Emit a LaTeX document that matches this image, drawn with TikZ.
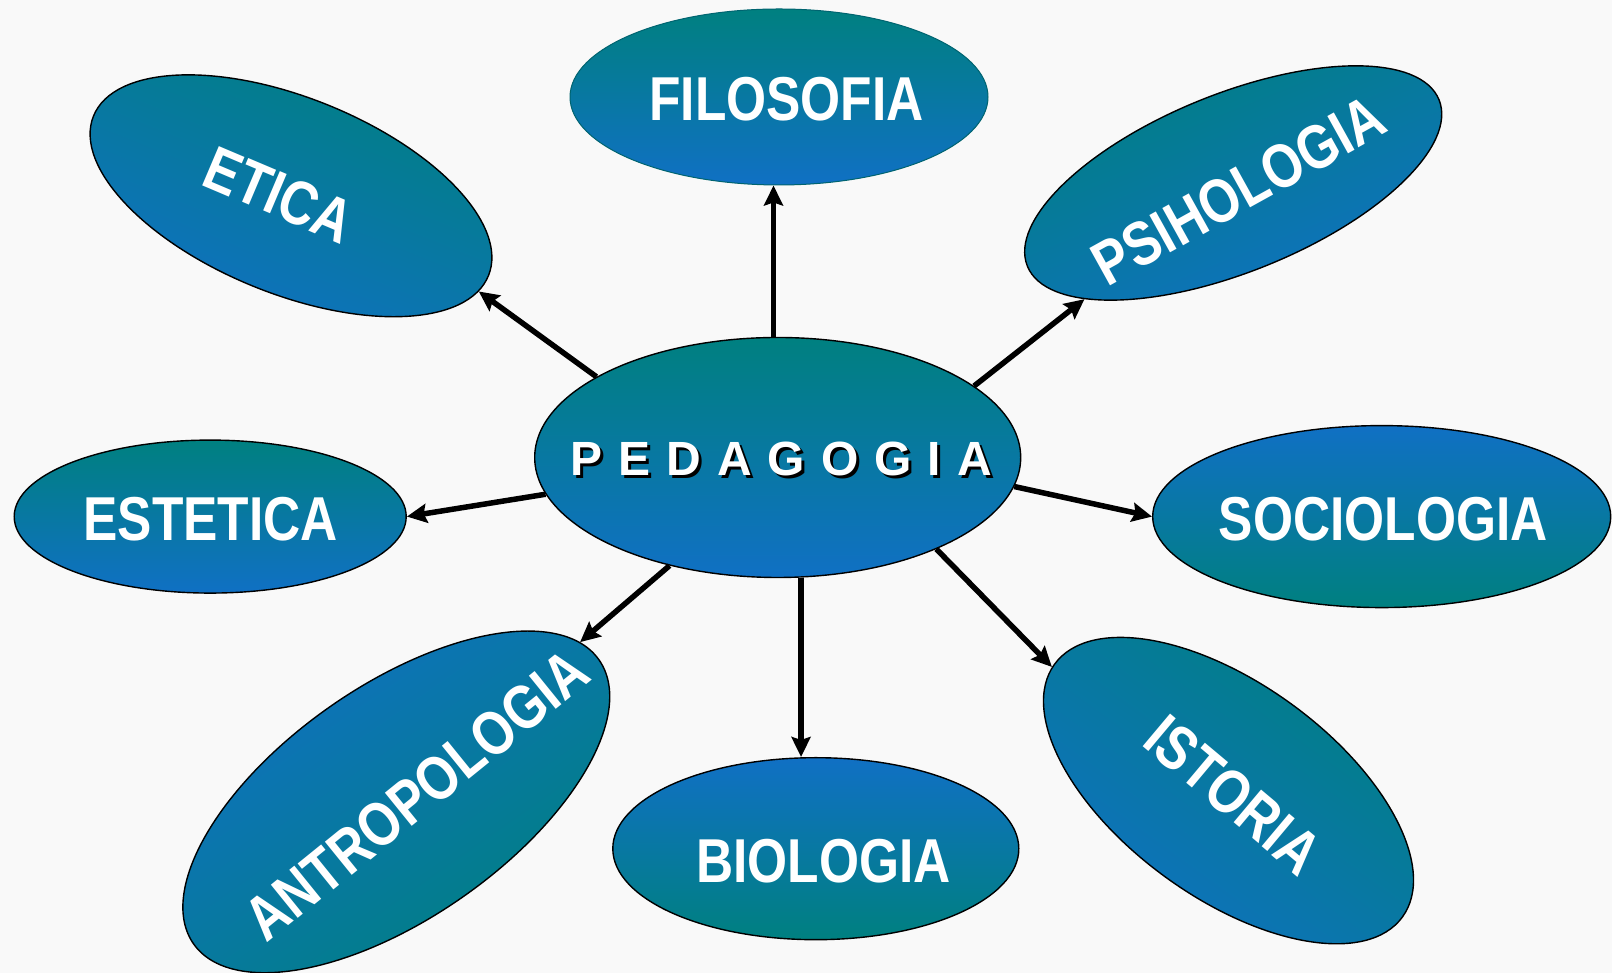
\documentclass[tikz,border=0pt]{standalone}
\usepackage{fontspec}
\setmainfont{Liberation Sans}
\newfontfamily\narfont[FakeStretch=0.83]{Liberation Sans}
\usetikzlibrary{shapes.geometric,arrows.meta}
\definecolor{tealc}{RGB}{0,128,128}
\definecolor{bluec}{RGB}{16,112,196}
\definecolor{bgc}{RGB}{249,249,249}
\definecolor{filoedge}{RGB}{0,100,112}
\newcommand{\pedtxt}{P\hskip16pt E\hskip16pt D\hskip16pt A\hskip16pt G\hskip16pt O\hskip16pt G\hskip16pt I\hskip16pt A}
\tikzset{
  ell/.style={ellipse, draw=black, line width=1.4pt, inner sep=0pt},
  tb/.style={top color=tealc, bottom color=bluec},
  bt/.style={top color=bluec, bottom color=tealc},
  lbl/.style={text=white, font=\narfont\fontsize{62}{62}\selectfont\bfseries, inner sep=0pt},
  pedfont/.style={font=\fontsize{48}{48}\selectfont\bfseries, inner sep=0pt},
  conn/.style={draw=black, line width=5.5pt, -{Stealth[length=20pt,width=19pt,inset=3pt]}}
}
\begin{document}
\begin{tikzpicture}[x=1pt,y=1pt]
\fill[bgc] (0,0) rectangle (1612,973);
\useasboundingbox (0,0) rectangle (1612,973);

% ellipses
\node[ell, tb, draw=filoedge, line width=1pt, minimum width=418pt, minimum height=176pt] (filo) at (779,876) {};
\node[ell, tb, minimum width=486pt, minimum height=240pt] (ped) at (777.7,515.5) {};
\node[ell, tb, minimum width=392pt, minimum height=153pt] (est) at (210.2,456.4) {};
\node[ell, bt, minimum width=458pt, minimum height=182pt] (soc) at (1381.7,456.4) {};
\node[ell, bt, minimum width=406pt, minimum height=182pt] (bio) at (815.8,124.3) {};
\node[ell, tb, shading angle=-22, rotate=-22, minimum width=426pt, minimum height=196pt] (eti) at (291,777.2) {};
\node[ell, tb, shading angle=22, rotate=22, minimum width=444pt, minimum height=178pt] (psi) at (1233.2,790) {};
\node[ell, bt, shading angle=35, rotate=35, minimum width=495pt, minimum height=232pt] (ant) at (396.3,171.1) {};
\node[ell, tb, shading angle=-36, rotate=-36, minimum width=430pt, minimum height=214pt] (ist) at (1228.5,182.4) {};

% labels
\node[lbl] (filot) at (786.5,873.8) {FILOSOFIA};
\node[lbl] (estt) at (210.7,453.8) {ESTETICA};
\node[lbl] (soct) at (1383.2,453.8) {SOCIOLOGIA};
\node[lbl] (biot) at (823.5,112) {BIOLOGIA};
\node[lbl, rotate=-23] (etit) at (279.2,778.2) {ETICA};
\node[lbl, rotate=29] (psit) at (1238.5,782.5) {PSIHOLOGIA};
\node[lbl, rotate=39] (antt) at (416.7,178) {ANTROPOLOGIA};
\node[lbl, rotate=-40] (istt) at (1233.3,178.2) {ISTORIA};
\node[pedfont, text=black] (peds) at (784.3,511) {\pedtxt};
\node[pedfont, text=white] (pedt) at (781.3,514) {\pedtxt};

% connectors
\draw[conn] (ped.156.6) -- (eti.-5);
\draw[conn] (ped.92) -- (ped.92 |- filo.south);
\draw[conn] (ped.20) -- (psi.196);
\draw[conn] (ped.189) -- (est.0);
\draw[conn] (ped.-7.7) -- (soc.180);
\draw[conn] (ped.225) -- (ant.6);
\draw[conn] (ped.-79) -- (ped.-79 |- bio.north);
\draw[conn] (ped.-30) -- (ist.181);
\end{tikzpicture}
\end{document}
